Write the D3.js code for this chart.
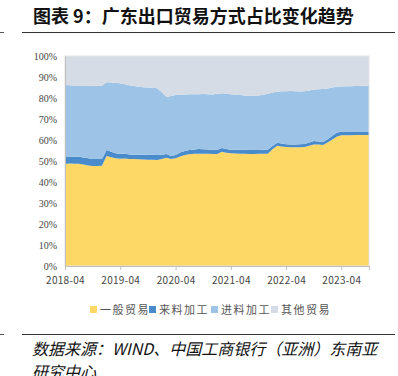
<!DOCTYPE html>
<html>
<head>
<meta charset="utf-8">
<script src="https://cdn.jsdelivr.net/npm/d3@7"></script>
<style>
  body { margin: 0; background: #fff; }
  svg { display: block; }
</style>
</head>
<body>
<svg id="chart" width="398" height="376"></svg>
<script>
/* global d3 */

// months 2018-04 .. 2023-10
var startMonth = "2018-04";
var monthCount = 67;

var seriesNames = ["一般贸易", "来料加工", "进料加工", "其他贸易"];
var seriesColors = ["#FED866", "#4A8BCB", "#9DC3E6", "#D6DCE5"];

// share of exports, %
var general = [48.6, 48.8, 48.7, 48.7, 48.3, 47.9, 47.6, 47.6, 47.7, 52.4, 51.8, 51.3, 51.1, 51.2, 51.0, 51.0,
  50.8, 50.7, 50.6, 50.6, 50.5, 51.0, 51.6, 51.0, 51.3, 52.2, 52.9, 53.2, 53.4, 53.5, 53.5, 53.4,
  53.3, 53.3, 54.4, 53.9, 53.7, 53.6, 53.5, 53.4, 53.3, 53.3, 53.4, 53.5, 53.5, 55.6, 57.3, 56.9,
  56.7, 56.6, 56.5, 56.6, 56.7, 57.3, 57.9, 57.8, 57.6, 58.8, 60.2, 61.5, 62.3, 62.3, 62.3, 62.4,
  62.4, 62.4, 62.4];
var consigned = [3.2, 3.3, 3.3, 3.3, 3.4, 3.4, 3.4, 3.4, 3.3, 2.8, 2.6, 2.4, 2.3, 2.2, 2.1, 2.0,
  2.2, 2.3, 2.4, 2.4, 2.3, 2.0, 1.7, 1.4, 1.6, 1.8, 1.9, 2.0, 2.1, 2.2, 2.1, 2.1,
  2.0, 2.0, 1.8, 1.8, 1.7, 1.8, 1.9, 1.9, 1.9, 1.9, 1.8, 1.8, 1.8, 1.6, 1.4, 1.4,
  1.3, 1.3, 1.3, 1.4, 1.4, 1.5, 1.6, 1.5, 1.4, 1.6, 1.8, 2.0, 1.7, 1.7, 1.7, 1.7,
  1.7, 1.7, 1.7];
var imported = [34.4, 34.0, 34.0, 34.0, 34.2, 34.5, 34.7, 34.8, 35.0, 32.3, 33.0, 33.6, 33.6, 33.2, 33.0, 32.7,
  32.3, 32.1, 32.0, 32.0, 31.8, 29.7, 27.2, 28.6, 28.5, 27.6, 26.9, 26.6, 26.3, 26.1, 26.3, 26.3,
  26.4, 26.7, 26.1, 26.3, 26.4, 26.2, 26.0, 25.9, 25.9, 25.7, 26.0, 26.3, 26.7, 25.4, 24.3, 24.9,
  25.2, 25.4, 25.4, 25.1, 25.1, 24.8, 24.5, 24.9, 25.3, 24.1, 23.0, 21.9, 21.5, 21.6, 21.6, 21.6,
  21.6, 21.7, 21.8];
var other = [13.8, 13.9, 14.0, 14.0, 14.1, 14.2, 14.3, 14.2, 14.0, 12.5, 12.6, 12.7, 13.0, 13.4, 13.9, 14.3,
  14.7, 14.9, 15.0, 15.0, 15.4, 17.3, 19.5, 19.0, 18.6, 18.4, 18.3, 18.2, 18.2, 18.2, 18.1, 18.2,
  18.3, 18.0, 17.7, 18.0, 18.2, 18.4, 18.6, 18.8, 18.9, 19.1, 18.8, 18.4, 18.0, 17.4, 17.0, 16.8,
  16.8, 16.7, 16.8, 16.9, 16.8, 16.4, 16.0, 15.8, 15.7, 15.5, 15.0, 14.6, 14.5, 14.4, 14.4, 14.3,
  14.3, 14.2, 14.1];

var xTickLabels = ["2018-04", "2019-04", "2020-04", "2021-04", "2022-04", "2023-04"];
var yTicks = [0, 10, 20, 30, 40, 50, 60, 70, 80, 90, 100];

var svg = d3.select("#chart");
var parseMonth = d3.timeParse("%Y-%m");
var t0 = parseMonth(startMonth);

var rows = d3.range(monthCount).map(function(i) {
  return {
    date: d3.timeMonth.offset(t0, i),
    "一般贸易": general[i],
    "来料加工": consigned[i],
    "进料加工": imported[i],
    "其他贸易": other[i]
  };
});

var x = d3.scaleTime()
  .domain([rows[0].date, rows[rows.length - 1].date])
  .range([65, 369]);
var y = d3.scaleLinear().domain([0, 100]).range([266, 56]);

// title
svg.append("text")
  .attr("x", 33).attr("y", 23)
  .attr("font-family", "Noto Sans CJK SC")
  .attr("font-weight", "bold")
  .attr("font-size", 18)
  .attr("fill", "#111")
  .text("图表 9：广东出口贸易方式占比变化趋势");

svg.append("line").attr("x1", 22).attr("x2", 395).attr("y1", 32.5).attr("y2", 32.5)
  .attr("stroke", "#333").attr("stroke-width", 1);
svg.append("line").attr("x1", 0).attr("x2", 4).attr("y1", 32.5).attr("y2", 32.5)
  .attr("stroke", "#555").attr("stroke-width", 1);

// stacked areas
var stacked = d3.stack().keys(seriesNames)(rows);
var area = d3.area()
  .x(function(d) { return x(d.data.date); })
  .y0(function(d) { return y(d[0]); })
  .y1(function(d) { return y(Math.min(d[1], 100)); });

svg.append("g")
  .selectAll("path")
  .data(stacked)
  .enter().append("path")
  .attr("d", area)
  .attr("fill", function(d, i) { return seriesColors[i]; });

// plot frame
svg.append("rect")
  .attr("x", 65).attr("y", 56)
  .attr("width", 304).attr("height", 210)
  .attr("fill", "none")
  .attr("stroke", "#e3e3e3")
  .attr("stroke-width", 1);

// y axis
var yAxis = svg.append("g")
  .attr("transform", "translate(65,0)")
  .call(d3.axisLeft(y).tickValues(yTicks).tickSize(0).tickPadding(8)
    .tickFormat(function(d) { return d + "%"; }));
yAxis.select(".domain").attr("stroke", "#bfbfbf");
yAxis.selectAll("text")
  .attr("font-family", "Liberation Serif")
  .attr("font-size", 10)
  .attr("fill", "#444");

// x axis
var xAxis = svg.append("g")
  .attr("transform", "translate(0,266)")
  .call(d3.axisBottom(x).tickValues(xTickLabels.map(parseMonth)).tickSize(4).tickPadding(7)
    .tickFormat(d3.timeFormat("%Y-%m")));
xAxis.select(".domain").attr("stroke", "#bfbfbf");
xAxis.selectAll(".tick line").attr("stroke", "#bfbfbf");
xAxis.selectAll("text")
  .attr("font-family", "Noto Sans CJK SC")
  .attr("font-size", 10)
  .attr("letter-spacing", 0.3)
  .attr("fill", "#444");

// legend
var legendX = [90, 149, 211, 271];
var legend = svg.append("g").selectAll("g")
  .data(seriesNames)
  .enter().append("g")
  .attr("transform", function(d, i) { return "translate(" + legendX[i] + ",306)"; });
legend.append("rect")
  .attr("width", 7).attr("height", 7)
  .attr("fill", function(d, i) { return seriesColors[i]; });
legend.append("text")
  .attr("x", 10).attr("y", 7.5)
  .attr("font-family", "Noto Sans CJK SC")
  .attr("font-size", 11)
  .attr("letter-spacing", 1.5)
  .attr("fill", "#555")
  .text(function(d) { return d; });

// source note
svg.append("line").attr("x1", 22).attr("x2", 395).attr("y1", 334.5).attr("y2", 334.5)
  .attr("stroke", "#333").attr("stroke-width", 1);
svg.append("line").attr("x1", 0).attr("x2", 4).attr("y1", 334.5).attr("y2", 334.5)
  .attr("stroke", "#555").attr("stroke-width", 1);

svg.append("text")
  .attr("x", 32).attr("y", 355)
  .attr("font-family", "Noto Sans CJK SC")
  .attr("font-style", "italic")
  .attr("font-size", 16)
  .attr("fill", "#111")
  .text("数据来源：WIND、中国工商银行（亚洲）东南亚");
svg.append("text")
  .attr("x", 32).attr("y", 378)
  .attr("font-family", "Noto Sans CJK SC")
  .attr("font-style", "italic")
  .attr("font-size", 16)
  .attr("fill", "#111")
  .text("研究中心");
</script>
</body>
</html>
